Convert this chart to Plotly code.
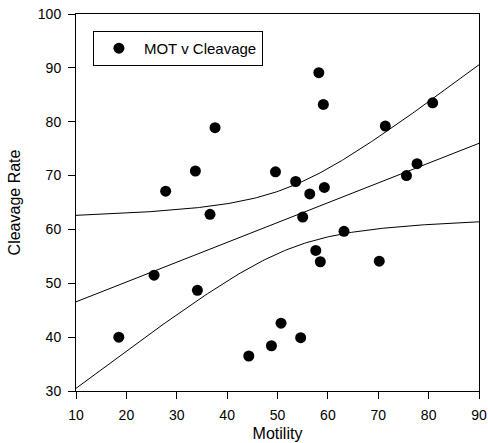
import numpy as np
import plotly.graph_objects as go

motility = [18.5, 25.5, 27.8, 33.7, 34.1, 36.6, 37.6, 44.3, 48.8, 49.6, 50.7, 53.6, 54.6,
            55.0, 56.4, 57.6, 58.2, 58.5, 59.1, 59.3, 63.2, 70.2, 71.4, 75.6, 77.7, 80.8]
cleavage = [40.0, 51.5, 67.1, 70.85, 48.7, 62.8, 78.9, 36.5, 38.4, 70.7, 42.6, 68.9, 39.9,
            62.3, 66.6, 56.1, 89.1, 54.0, 83.2, 67.8, 59.65, 54.1, 79.2, 70.0, 72.2, 83.5]
t_crit = 2.0639  # 95%, df = 24

x = np.array(motility)
y = np.array(cleavage)
n = len(x)
slope, intercept = np.polyfit(x, y, 1)
resid = y - (slope * x + intercept)
s = np.sqrt(np.sum(resid ** 2) / (n - 2))
sxx = np.sum((x - x.mean()) ** 2)
xs = np.linspace(10, 90, 200)
yfit = slope * xs + intercept
half = t_crit * s * np.sqrt(1.0 / n + (xs - x.mean()) ** 2 / sxx)

fig = go.Figure()
line_style = dict(color="black", width=1)
fig.add_trace(go.Scatter(x=xs, y=yfit, mode="lines", line=line_style, showlegend=False, hoverinfo="skip"))
fig.add_trace(go.Scatter(x=xs, y=yfit + half, mode="lines", line=line_style, showlegend=False, hoverinfo="skip"))
fig.add_trace(go.Scatter(x=xs, y=yfit - half, mode="lines", line=line_style, showlegend=False, hoverinfo="skip"))
fig.add_trace(go.Scatter(x=motility, y=cleavage, mode="markers", name="MOT v Cleavage",
                         marker=dict(color="black", size=11)))

axis_common = dict(showline=True, mirror=True, linecolor="black", linewidth=1,
                   ticks="outside", ticklen=7, tickcolor="black", showgrid=False, zeroline=False,
                   ticklabelstandoff=4, automargin=False,
                   tickfont=dict(size=14, color="black"))
fig.update_layout(
    width=488, height=443,
    margin=dict(l=76, r=9, t=14, b=52),
    paper_bgcolor="white", plot_bgcolor="white",
    font=dict(family="Liberation Sans, Arial, sans-serif", color="black"),
    xaxis=dict(range=[10, 90], dtick=10, title=dict(text="Motility", font=dict(size=16), standoff=6), **axis_common),
    yaxis=dict(range=[30, 100], dtick=10, title=dict(text="Cleavage Rate", font=dict(size=16), standoff=13), **axis_common),
    legend=dict(x=0.042, y=0.955, xanchor="left", yanchor="top", bordercolor="black", borderwidth=1,
                bgcolor="white", font=dict(size=15), itemwidth=40),
    showlegend=True,
)
fig.write_html("out.html")
